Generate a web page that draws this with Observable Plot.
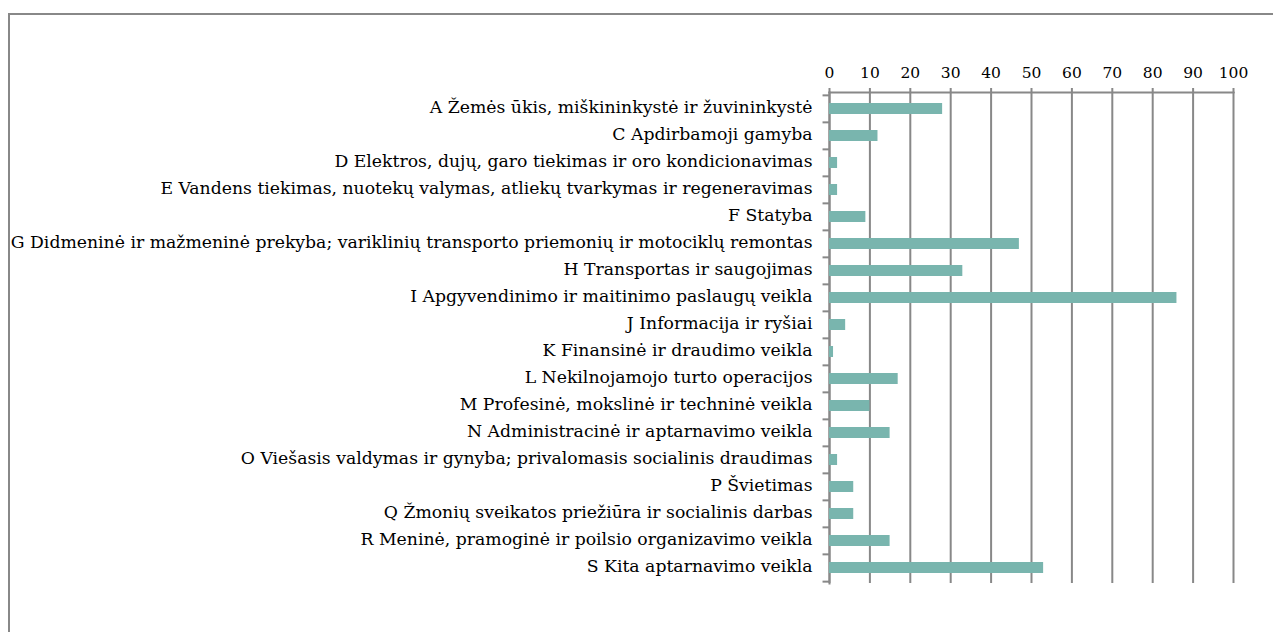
<!DOCTYPE html>
<html>
<head>
<meta charset="utf-8">
<script src="https://cdn.jsdelivr.net/npm/d3@7"></script>
<script src="https://cdn.jsdelivr.net/npm/@observablehq/plot@0.6"></script>
<style>
  html, body { margin: 0; padding: 0; background: #fff; }
  #frame { position: absolute; left: 8px; top: 13px; width: 1400px; height: 700px;
           border-left: 2px solid #888; border-top: 2px solid #888; }
  #chart { position: absolute; left: 0; top: 0; }
  #chart svg, #chart svg text { font-family: "DejaVu Serif", serif !important; }
</style>
</head>
<body>
<div id="frame"></div>
<div id="chart"></div>
<script>
const categories = [
  "A Žemės ūkis, miškininkystė ir žuvininkystė",
  "C Apdirbamoji gamyba",
  "D Elektros, dujų, garo tiekimas ir oro kondicionavimas",
  "E Vandens tiekimas, nuotekų valymas, atliekų tvarkymas ir regeneravimas",
  "F Statyba",
  "G Didmeninė ir mažmeninė prekyba; variklinių transporto priemonių ir motociklų remontas",
  "H Transportas ir saugojimas",
  "I Apgyvendinimo ir maitinimo paslaugų veikla",
  "J Informacija ir ryšiai",
  "K Finansinė ir draudimo veikla",
  "L Nekilnojamojo turto operacijos",
  "M Profesinė, mokslinė ir techninė veikla",
  "N Administracinė ir aptarnavimo veikla",
  "O Viešasis valdymas ir gynyba; privalomasis socialinis draudimas",
  "P Švietimas",
  "Q Žmonių sveikatos priežiūra ir socialinis darbas",
  "R Meninė, pramoginė ir poilsio organizavimo veikla",
  "S Kita aptarnavimo veikla"
];
const values = [28, 12, 2, 2, 9, 47, 33, 86, 4, 1, 17, 10, 15, 2, 6, 6, 15, 53];
const xTicks = [0, 10, 20, 30, 40, 50, 60, 70, 80, 90, 100];

const data = categories.map((c, i) => ({category: c, value: values[i]}));

const marginTop = 92, marginBottom = 49;
const H = 632;
const step = (H - marginTop - marginBottom) / categories.length;

const chart = Plot.plot({
  width: 1273,
  height: H,
  marginLeft: 829,
  marginRight: 40,
  marginTop,
  marginBottom,
  style: {fontFamily: "'DejaVu Serif', serif", fontSize: "17px", color: "#000", background: "transparent"},
  x: {domain: [0, 100], axis: null},
  y: {domain: categories, paddingInner: 0.6, paddingOuter: 0.3, axis: null},
  marks: [
    Plot.gridX(xTicks, {stroke: "#888", strokeOpacity: 1, strokeWidth: 2}),
    Plot.frame({anchor: "top", stroke: "#888", strokeWidth: 2}),
    Plot.frame({anchor: "left", stroke: "#888", strokeWidth: 2}),
    Plot.ruleY(categories, {y: d => d, x1: -1.6, x2: 0, dy: -step / 2, stroke: "#888", strokeWidth: 2}),
    Plot.ruleY([categories[categories.length - 1]], {y: d => d, x1: -1.6, x2: 0, dy: step / 2, stroke: "#888", strokeWidth: 2}),
    Plot.axisX(xTicks, {anchor: "top", tickSize: 5, tickPadding: 10, stroke: "#888", strokeWidth: 2, strokeOpacity: 1, fill: "#000", fontSize: 15.5, fontFamily: "DejaVu Serif", label: null}),
    Plot.barX(data, {y: "category", x: "value", fill: "#79b5ae"}),
    Plot.axisY({anchor: "left", tickSize: 0, tickPadding: 17, dy: -2, fill: "#000", fontSize: 17.25, fontFamily: "DejaVu Serif", label: null})
  ]
});
document.getElementById("chart").appendChild(chart);
</script>
</body>
</html>
